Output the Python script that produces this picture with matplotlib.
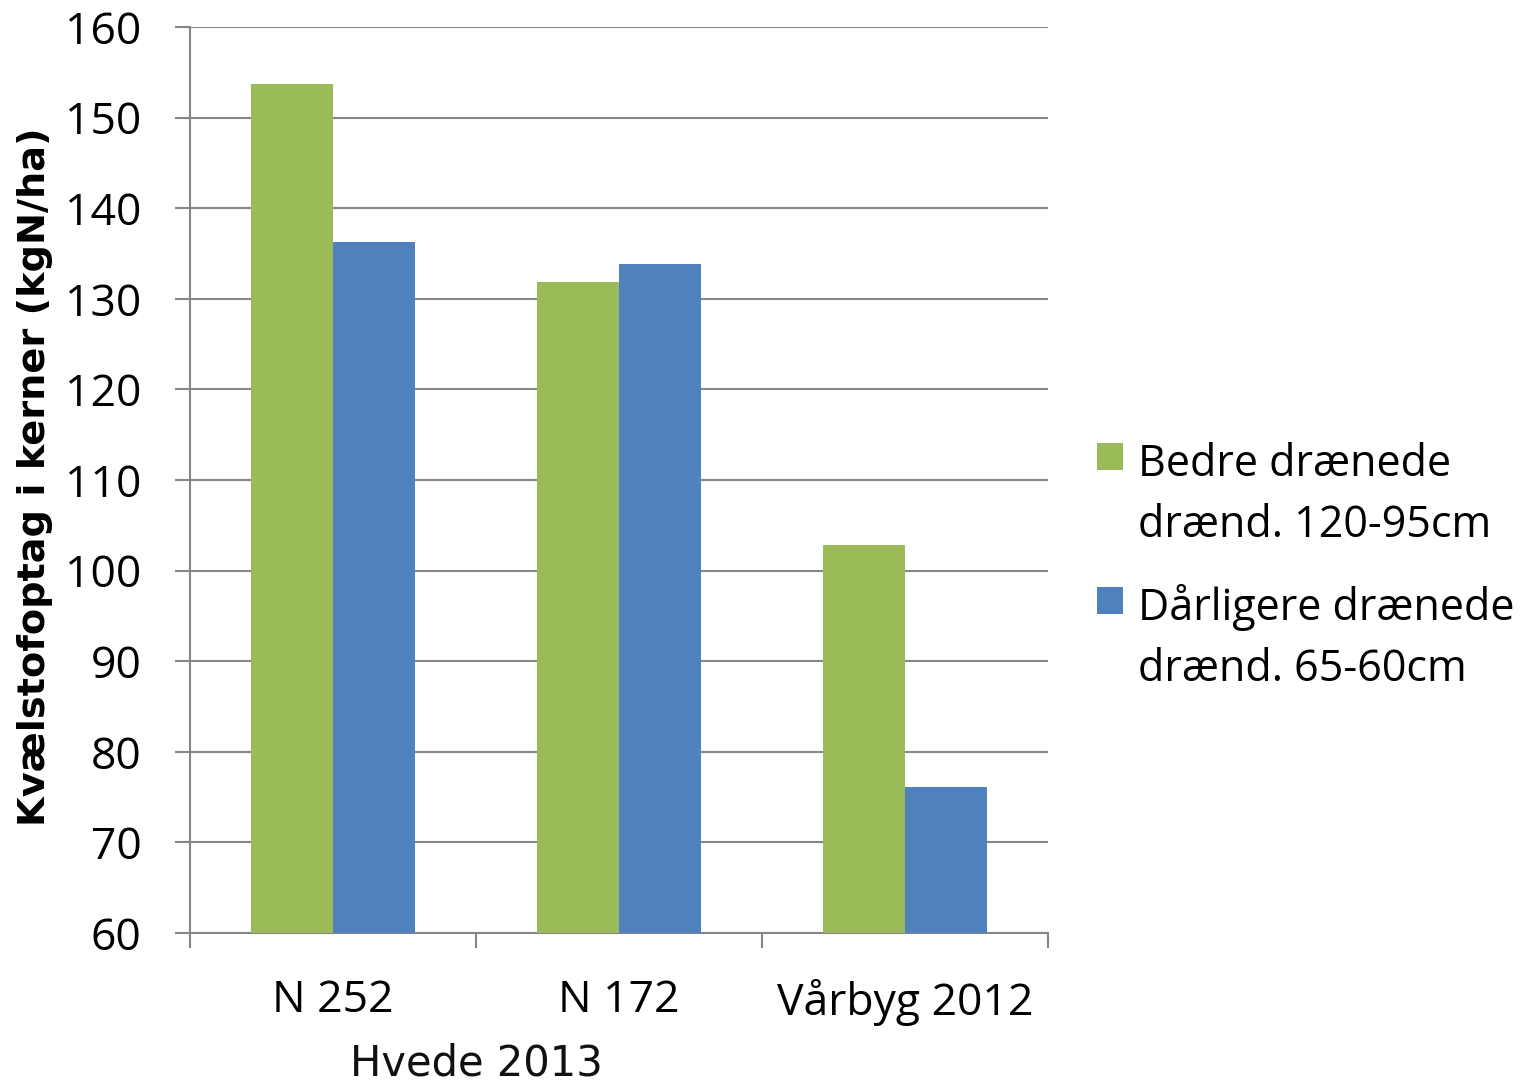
import matplotlib
matplotlib.use("Agg")
import matplotlib.pyplot as plt
from matplotlib.patches import Rectangle
import numpy as np

categories = ["N 252", "N 172", "Vårbyg 2012"]
group_label = "Hvede 2013"
series_names = ["Bedre drænede\ndrænd. 120-95cm", "Dårligere drænede\ndrænd. 65-60cm"]
bedre = [153.7, 131.9, 102.8]
daarligere = [136.3, 133.8, 76.1]
yticks = [60, 70, 80, 90, 100, 110, 120, 130, 140, 150, 160]

colors = ["#9BBB59", "#4F81BD"]
grid_col = "#868686"

fig = plt.figure(figsize=(15.24, 10.87), dpi=100)
ax = fig.add_axes([190 / 1524, 154 / 1087, 858 / 1524, 906 / 1087])

x = np.arange(len(categories))
w = 0.287
ax.bar(x - w / 2, bedre, width=w, color=colors[0], zorder=3)
ax.bar(x + w / 2, daarligere, width=w, color=colors[1], zorder=3)

ax.set_xlim(-0.5, len(categories) - 0.5)
ax.set_ylim(60, 160)
ax.set_yticks(yticks)
ax.yaxis.grid(True, color=grid_col, linewidth=1.5, zorder=0)
ax.set_axisbelow(True)

for s in ["top", "right"]:
    ax.spines[s].set_visible(False)
for s in ["left", "bottom"]:
    ax.spines[s].set_color(grid_col)
    ax.spines[s].set_linewidth(1.5)

ax.tick_params(axis="y", direction="out", length=11, width=1.5, color=grid_col,
               pad=24, labelsize=32)
ax.set_xticks(x)
ax.set_xticklabels(categories)
ax.set_xticks(np.arange(-0.5, len(categories)), minor=True)
ax.tick_params(axis="x", which="major", length=0, pad=33, labelsize=32)
ax.tick_params(axis="x", which="minor", direction="out", length=11, width=1.5,
               color=grid_col)
for lab in ax.get_xticklabels() + ax.get_yticklabels():
    lab.set_fontfamily("Open Sans")

# group label under the first two categories
fig.text(476 / 1524, 2 / 1087, group_label, ha="center", va="bottom",
         fontsize=30, family="DejaVu Sans", color="#111111")

fig.text(35 / 1524, 0.561, "Kvælstofoptag i kerner (kgN/ha)", rotation=90,
         ha="center", va="center", fontsize=27.5, fontweight="bold",
         family="DejaVu Sans")

# legend
for i, (name, c) in enumerate(zip(series_names, colors)):
    top = 443 + i * 144
    fig.patches.append(Rectangle((1097 / 1524, (1087 - top - 27) / 1087),
                                 26 / 1524, 27 / 1087, transform=fig.transFigure,
                                 facecolor=c, edgecolor="none"))
    fig.text(1138 / 1524, (1087 - 537 - i * 144) / 1087, name, ha="left",
             va="baseline", fontsize=31, family="Open Sans", linespacing=1.5)

fig.savefig("out.png", dpi=100)
